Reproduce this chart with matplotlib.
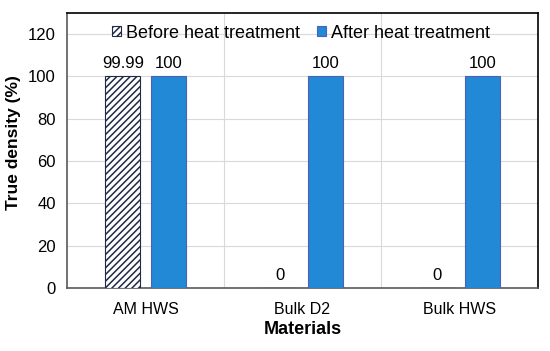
import numpy as np
import matplotlib.pyplot as plt

plt.rcParams['font.family'] = ['Liberation Sans', 'DejaVu Sans']
plt.rcParams['hatch.color'] = '#1f2a44'
plt.rcParams['hatch.linewidth'] = 1.1

materials = ["AM HWS", "Bulk D2", "Bulk HWS"]
before = [99.99, 0, 0]
after = [100, 100, 100]
before_labels = ["99.99", "0", "0"]
after_labels = ["100", "100", "100"]

fig = plt.figure(figsize=(5.5, 3.51), dpi=100)
ax = fig.add_axes([0.122, 0.1795, 0.856, 0.7835])

x = np.arange(len(materials))
w = 0.225
off = 0.145

b1 = ax.bar(x - off, before, w, color='white', edgecolor='#1f2a44',
            hatch='/////', linewidth=0.8, label='Before heat treatment', zorder=3)
b2 = ax.bar(x + off, after, w, color='#2289d6', edgecolor='#4d62b0',
            linewidth=0.8, label='After heat treatment', zorder=3)

for rect, lab in zip(b1, before_labels):
    ax.text(rect.get_x() + rect.get_width() / 2, rect.get_height() + 2.5, lab,
            ha='center', va='bottom', fontsize=12)
for rect, lab in zip(b2, after_labels):
    ax.text(rect.get_x() + rect.get_width() / 2, rect.get_height() + 2.5, lab,
            ha='center', va='bottom', fontsize=12)

ax.set_xlim(-0.5, 2.5)
ax.set_ylim(0, 130)
ax.set_yticks(range(0, 121, 20))
ax.set_xticks(x)
ax.set_xticklabels(materials, fontsize=11.5)
ax.tick_params(axis='y', labelsize=12, length=0, pad=8)
ax.tick_params(axis='x', length=0, pad=10)

ax.set_xticks([0.5, 1.5], minor=True)
ax.grid(True, axis='y', color='#d9d9d9', linewidth=0.8, zorder=0)
ax.grid(True, axis='x', which='minor', color='#d9d9d9', linewidth=0.8, zorder=0)
ax.tick_params(axis='x', which='minor', length=0)

for s in ['top', 'right']:
    ax.spines[s].set_color('black')
    ax.spines[s].set_linewidth(1.2)
for s in ['left', 'bottom']:
    ax.spines[s].set_color('#595959')
    ax.spines[s].set_linewidth(1.2)

ax.set_xlabel('Materials', fontsize=13, fontweight='bold', labelpad=3)
ax.set_ylabel('True density (%)', fontsize=12.5, fontweight='bold')
ax.yaxis.set_label_coords(-0.098, 0.53)

ax.legend(loc='upper center', ncol=2, frameon=False, fontsize=13,
          handlelength=0.5, handleheight=0.5, handletextpad=0.25,
          columnspacing=0.95, bbox_to_anchor=(0.497, 1.0), borderaxespad=0.25)

fig.savefig('out.png', dpi=100)
